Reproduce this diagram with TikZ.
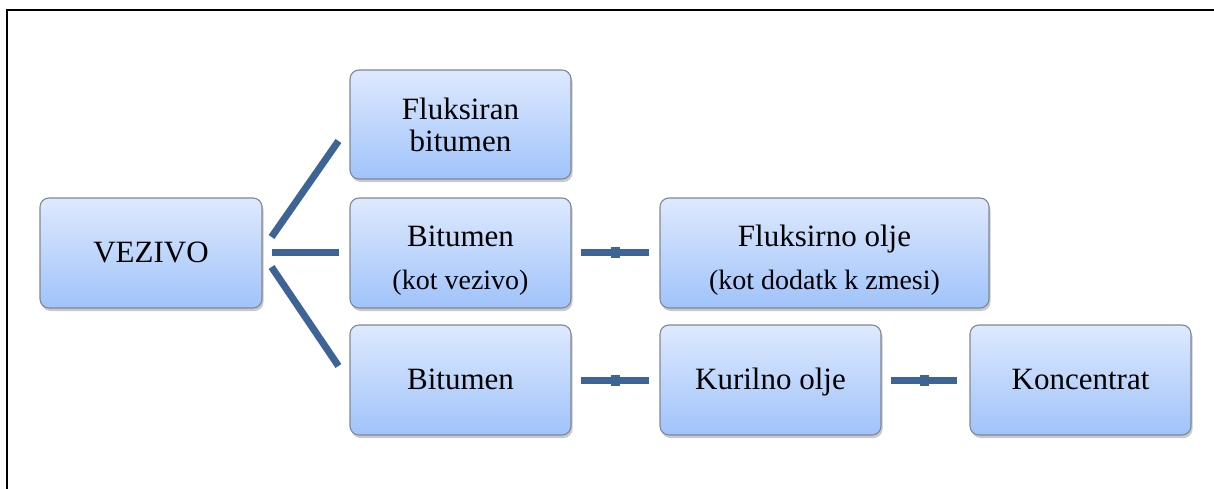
\documentclass[tikz,border=0pt]{standalone}
\usepackage{fontspec}
\setmainfont{Liberation Serif}
\newfontfamily\tnr{Liberation Serif}
\usetikzlibrary{calc,shadows,shadings}
\definecolor{boxtop}{RGB}{222,233,253}
\definecolor{boxbot}{RGB}{160,195,250}
\definecolor{boxline}{RGB}{128,136,150}
\definecolor{conn}{RGB}{62,100,150}
\tikzset{
  sbox/.style={rectangle, rounded corners=9pt, draw=boxline, line width=1.1pt,
    top color=boxtop, bottom color=boxbot, minimum width=221pt, minimum height=110pt,
    inner sep=0pt, align=center, font=\tnr\fontsize{31}{32}\selectfont,
    drop shadow={shadow xshift=1.5pt, shadow yshift=-3pt, opacity=0.35, fill=black!60}},
  onel/.style={text height=27pt, text depth=9pt},
  conline/.style={draw=conn, line width=7pt, line cap=butt},
  sqmark/.style={rectangle, fill=conn, minimum width=9pt, minimum height=11pt, inner sep=0pt}
}
\newcommand{\smtxt}[1]{{\fontsize{28}{43}\selectfont #1}}
\begin{document}
\begin{tikzpicture}[x=1pt,y=-1pt]
\useasboundingbox (0,0) rectangle (1214,489);
\fill[white] (0,0) rectangle (1214,489);
\draw[line width=2pt] (7,489) -- (7,10) -- (1214,10);

\node[sbox, onel, minimum width=222pt] (vez) at (151,253) {VEZIVO};
\node[sbox, minimum height=109pt] (fb) at (460.5,124.5) {Fluksiran\\bitumen};
\node[sbox, font=\tnr\fontsize{31}{43}\selectfont] (bk) at (460.5,253) {\rule{0pt}{36pt}Bitumen\\\smtxt{(kot vezivo)}};
\node[sbox, onel] (b3) at (460.5,380) {Bitumen};
\node[sbox, minimum width=329pt, font=\tnr\fontsize{31}{43}\selectfont] (fo) at (824.5,253) {\rule{0pt}{36pt}Fluksirno olje\\\smtxt{(kot dodatk k zmesi)}};
\node[sbox, onel] (ko) at (770.5,380) {Kurilno olje};
\node[sbox, onel] (kc) at (1080.5,380) {Koncentrat};

\draw[conline] ($(vez.east)+(9,-16)$) -- ($(fb.west)+(-11,16.5)$);
\draw[conline] ($(vez.east)+(9,-1)$) -- ($(bk.west)+(-10,-1)$);
\draw[conline] ($(vez.east)+(9,14)$) -- ($(b3.west)+(-11,-14)$);

\draw[conline] ($(bk.east)+(9,-1)$) -- ($(fo.west)+(-10,-1)$) node[sqmark, midway] (m1) {};
\draw[conline] ($(b3.east)+(9,0)$) -- ($(ko.west)+(-10,0)$) node[sqmark, midway] (m2) {};
\draw[conline] ($(ko.east)+(9,0)$) -- ($(kc.west)+(-12,0)$) node[sqmark, midway] (m3) {};
\end{tikzpicture}
\end{document}
